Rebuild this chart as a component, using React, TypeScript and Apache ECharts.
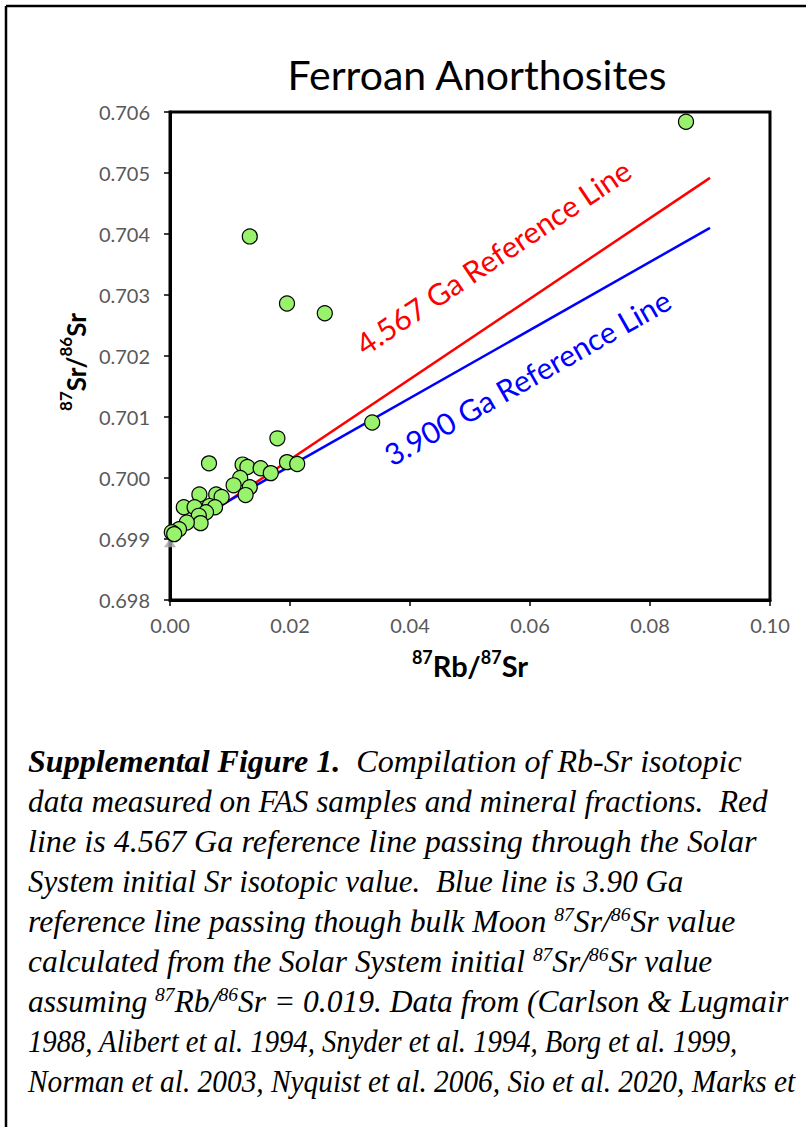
import React, { useEffect, useLayoutEffect, useRef } from "react";
import * as echarts from "echarts";

// ---- data ----
const rbSr: number[] = [
  0.086, 0.0133, 0.0195, 0.0258, 0.0337, 0.0179, 0.0065, 0.0121, 0.0129, 0.0151,
  0.0168, 0.0195, 0.0212, 0.0117, 0.0106, 0.0133, 0.0126, 0.0077, 0.0086, 0.0049,
  0.0023, 0.0041, 0.0066, 0.0075, 0.006, 0.0048, 0.0051, 0.0028, 0.0015, 0.0003, 0.0007,
];
const srSr: number[] = [
  0.70584, 0.70396, 0.70286, 0.7027, 0.70091, 0.70065, 0.70024, 0.70022, 0.70018, 0.70016,
  0.70008, 0.70026, 0.70023, 0.7, 0.69988, 0.69985, 0.69972, 0.69973, 0.69969, 0.69973,
  0.69952, 0.69952, 0.69954, 0.69952, 0.69944, 0.69938, 0.69926, 0.69927, 0.69916, 0.69911, 0.69908,
];
const ssInitialX = [0];
const ssInitialY = [0.69894];
const refLineX = [0, 0.09];
const redLineY = [0.69898, 0.70492];
const blueLineY = [0.69908, 0.7041];
const redLabel = "4.567 Ga Reference Line";
const blueLabel = "3.900 Ga Reference Line";
const redLabelAt = [0.0538, 0.70363];
const blueLabelAt = [0.0595, 0.70166];
const xAxisMin = 0, xAxisMax = 0.1, xAxisStep = 0.02;
const yAxisMin = 0.698, yAxisMax = 0.706, yAxisStep = 0.001;
const titleText = "Ferroan Anorthosites";
const xAxisName = "{sup|87}{b|Rb/}{sup|87}{b|Sr}";
const yAxisName = "{sup|87}{b|Sr/}{sup|86}{b|Sr}";

const supStyle: React.CSSProperties = {
  fontSize: "0.62em",
  verticalAlign: "baseline",
  position: "relative",
  top: "-0.55em",
  lineHeight: 0,
};
const Sup = ({ t }: { t: string }) => <span style={supStyle}>{t}</span>;

const captionLines: React.ReactNode[] = [
  <><b>Supplemental Figure 1.</b>{"  Compilation of Rb-Sr isotopic"}</>,
  <>{"data measured on FAS samples and mineral fractions.  Red"}</>,
  <>{"line is 4.567 Ga reference line passing through the Solar"}</>,
  <>{"System initial Sr isotopic value.  Blue line is 3.90 Ga"}</>,
  <>reference line passing though bulk Moon <Sup t="87" />Sr/<Sup t="86" />Sr value</>,
  <>calculated from the Solar System initial <Sup t="87" />Sr/<Sup t="86" />Sr value</>,
  <>assuming <Sup t="87" />Rb/<Sup t="86" />Sr = 0.019. Data from (Carlson &amp; Lugmair</>,
  <>1988, Alibert et al. 1994, Snyder et al. 1994, Borg et al. 1999,</>,
  <>Norman et al. 2003, Nyquist et al. 2006, Sio et al. 2020, Marks et</>,
];
// layout: right edge of each caption line in the reference (px)
const captionRight = [742, 768, 757, 683, 735, 712, 788, 737, 795];

const W = 806;
const H = 1127;
const CAP_LEFT = 28;

export default function App() {
  const ref = useRef<HTMLDivElement>(null);
  const lineRefs = useRef<(HTMLSpanElement | null)[]>([]);

  useLayoutEffect(() => {
    lineRefs.current.forEach((el, i) => {
      if (!el) return;
      const w = el.offsetWidth;
      if (w > 0) {
        el.style.transform = `scaleX(${(captionRight[i] - CAP_LEFT) / w})`;
      }
    });
  }, []);

  useEffect(() => {
    if (!ref.current) return;
    const chart = echarts.init(ref.current, null, { renderer: "svg", width: W, height: H });
    const pts = rbSr.map((x, i) => [x, srSr[i]]);
    const labelFont = "Lato";
    const nameRich = (big: number, small: number) => ({
      b: { fontFamily: labelFont, fontWeight: "bold", fontSize: big, fill: "#000", color: "#000", verticalAlign: "bottom", lineHeight: 32 },
      sup: { fontFamily: labelFont, fontWeight: "bold", fontSize: small, fill: "#000", color: "#000", verticalAlign: "top", lineHeight: 32 },
    });
    chart.setOption({
      animation: false,
      backgroundColor: "#fff",
      title: {
        text: titleText,
        left: 477,
        top: 54,
        textAlign: "center",
        padding: 0,
        textStyle: { fontFamily: labelFont, fontSize: 41, fontWeight: "normal", color: "#000", lineHeight: 41 },
      },
      grid: {
        left: 170,
        top: 112,
        width: 600,
        height: 488,
        show: true,
        borderColor: "#000",
        borderWidth: 3,
        backgroundColor: "transparent",
      },
      xAxis: {
        type: "value",
        min: xAxisMin,
        max: xAxisMax,
        interval: xAxisStep,
        splitLine: { show: false },
        axisLine: { show: true, lineStyle: { color: "#000", width: 3 } },
        axisTick: { show: true, inside: false, length: 6, lineStyle: { color: "#000", width: 1.5 } },
        axisLabel: {
          margin: 15,
          color: "#595959",
          fontFamily: labelFont,
          fontSize: 20,
          formatter: (v: number) => v.toFixed(2),
        },
        name: xAxisName,
        nameLocation: "middle",
        nameGap: 48,
        nameTextStyle: { rich: nameRich(29, 18) },
      },
      yAxis: {
        type: "value",
        min: yAxisMin,
        max: yAxisMax,
        interval: yAxisStep,
        splitLine: { show: false },
        axisLine: { show: true, lineStyle: { color: "#000", width: 3 } },
        axisTick: { show: true, inside: false, length: 6, lineStyle: { color: "#000", width: 1.5 } },
        axisLabel: {
          margin: 20,
          color: "#595959",
          fontFamily: labelFont,
          fontSize: 20,
          formatter: (v: number) => v.toFixed(3),
        },
      },
      series: [
        {
          type: "line",
          data: refLineX.map((x, i) => [x, redLineY[i]]),
          symbol: "none",
          lineStyle: { color: "#ff0000", width: 2.5 },
          z: 2,
        },
        {
          type: "line",
          data: refLineX.map((x, i) => [x, blueLineY[i]]),
          symbol: "none",
          lineStyle: { color: "#0000ff", width: 2.5 },
          z: 2,
        },
        {
          type: "scatter",
          data: ssInitialX.map((x, i) => [x, ssInitialY[i]]),
          symbol: "triangle",
          symbolSize: [12, 9],
          itemStyle: { color: "#a6a6a6" },
          z: 3,
        },
        {
          type: "scatter",
          data: pts,
          symbol: "circle",
          symbolSize: 15,
          itemStyle: { color: "#98f26c", borderColor: "#000", borderWidth: 1.2, opacity: 1 },
          z: 4,
        },
      ],
    });

    const px = (p: number[]) => chart.convertToPixel({ gridIndex: 0 }, p) as number[];
    const angleOf = (ys: number[]) => {
      const a = px([refLineX[0], ys[0]]);
      const b = px([refLineX[1], ys[1]]);
      return Math.atan2(a[1] - b[1], b[0] - a[0]);
    };
    const rp = px(redLabelAt);
    const bp = px(blueLabelAt);
    const yMid = px([xAxisMin, (yAxisMin + yAxisMax) / 2]);
    const lblStyle = {
      fontFamily: labelFont,
      fontSize: 30,
      align: "center",
      verticalAlign: "middle",
      textAlign: "center",
      textVerticalAlign: "middle",
    };
    chart.setOption({
      graphic: [
        { type: "line", shape: { x1: 6, y1: 6, x2: W, y2: 6 }, style: { stroke: "#000", lineWidth: 2.5 } },
        { type: "line", shape: { x1: 6, y1: 6, x2: 6, y2: H }, style: { stroke: "#000", lineWidth: 2.5 } },
        {
          type: "text",
          x: yMid[0] - 97,
          y: yMid[1] + 6,
          rotation: Math.PI / 2,
          style: {
            text: yAxisName,
            rich: nameRich(26, 17),
            fill: "#000",
            align: "center",
            verticalAlign: "middle",
            textAlign: "center",
            textVerticalAlign: "middle",
          },
          z: 10,
        },
        {
          type: "text",
          x: rp[0],
          y: rp[1],
          rotation: angleOf(redLineY),
          style: { ...lblStyle, text: redLabel, fill: "#ff0000" },
          z: 10,
        },
        {
          type: "text",
          x: bp[0],
          y: bp[1],
          rotation: angleOf(blueLineY),
          style: { ...lblStyle, text: blueLabel, fill: "#0000ff" },
          z: 10,
        },
      ],
    });
    return () => chart.dispose();
  }, []);

  return (
    <div style={{ position: "absolute", left: 0, top: 0, width: W, height: H, overflow: "hidden", background: "#fff" }}>
      <div ref={ref} style={{ position: "absolute", left: 0, top: 0, width: W, height: H }} />
      {captionLines.map((ln, i) => (
        <div
          key={i}
          style={{
            position: "absolute",
            left: CAP_LEFT,
            top: 742 + i * 40,
            height: 40,
            lineHeight: "40px",
            whiteSpace: "pre",
            fontFamily: "'Liberation Serif', 'Times New Roman', serif",
            fontStyle: "italic",
            fontSize: 31,
            color: "#000",
          }}
        >
          <span
            ref={(el) => {
              lineRefs.current[i] = el;
            }}
            style={{ display: "inline-block", transformOrigin: "0 50%" }}
          >
            {ln}
          </span>
        </div>
      ))}
    </div>
  );
}
